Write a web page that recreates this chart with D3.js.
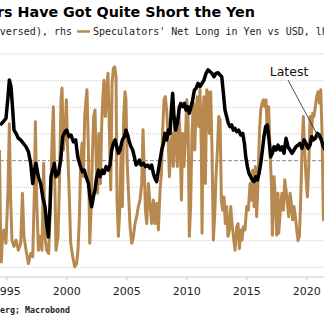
<!DOCTYPE html>
<html>
<head>
<meta charset="utf-8">
<script src="https://d3js.org/d3.v7.min.js"></script>
<style>
  body { margin: 0; background: #fff; }
  svg { display: block; }
</style>
</head>
<body>
<script>
// speculators' net long in yen vs USD (thousand contracts), lhs
const specNetLong = [
  [1994.40, 20], [1994.47, -110], [1994.55, -190], [1994.66, -140], [1994.78, -130], [1994.94, -155],
  [1995.11, -55], [1995.22, 69], [1995.33, -74], [1995.44, -149], [1995.61, -161], [1995.78, -149],
  [1995.97, -168], [1996.17, -155], [1996.31, -61], [1996.44, -142], [1996.61, -168], [1996.81, -193],
  [1997.00, -174], [1997.17, -180], [1997.31, -55], [1997.39, 73], [1997.50, -74], [1997.64, -168],
  [1997.78, -142], [1997.94, -168], [1998.08, -5], [1998.19, -142], [1998.33, -168], [1998.50, -174],
  [1998.67, -68], [1998.78, 39], [1998.89, 101], [1999.00, -30], [1999.11, -168], [1999.28, -142],
  [1999.39, -43], [1999.53, 114], [1999.61, 136], [1999.72, 20], [1999.86, 51], [1999.97, 114],
  [2000.08, 20], [2000.22, -68], [2000.33, -155], [2000.50, -180], [2000.67, -199], [2000.83, -193],
  [2000.94, -168], [2001.06, -105], [2001.17, 1], [2001.28, 33], [2001.39, -30], [2001.50, 83],
  [2001.61, 114], [2001.69, 133], [2001.81, 20], [2001.92, -155], [2002.03, -93], [2002.14, 8],
  [2002.25, 83], [2002.36, 95], [2002.47, -11], [2002.58, -61], [2002.69, 51], [2002.81, -43],
  [2002.92, 70], [2003.03, 126], [2003.11, 151], [2003.22, 83], [2003.33, 133], [2003.44, 164],
  [2003.56, 51], [2003.67, -55], [2003.78, 145], [2003.89, 173], [2004.00, 176], [2004.11, 158],
  [2004.19, -74], [2004.31, -142], [2004.42, -93], [2004.53, 20], [2004.64, -86], [2004.75, 83],
  [2004.86, 129], [2004.94, 114], [2005.03, 1], [2005.14, -55], [2005.28, -124], [2005.42, -155],
  [2005.56, -142], [2005.69, -118], [2005.83, -105], [2005.97, -86], [2006.11, -74], [2006.25, -43],
  [2006.36, 58], [2006.44, 1], [2006.56, -93], [2006.67, -118], [2006.81, -43], [2006.94, -80],
  [2007.08, -118], [2007.22, -74], [2007.36, -118], [2007.50, -80], [2007.64, -130], [2007.78, -55],
  [2007.89, -24], [2008.00, 58], [2008.11, 114], [2008.22, 120], [2008.33, 95], [2008.44, 51],
  [2008.56, -30], [2008.67, 20], [2008.78, 51], [2008.89, -11], [2009.00, 83], [2009.11, 33],
  [2009.22, -11], [2009.33, 101], [2009.44, 51], [2009.56, -74], [2009.67, 51], [2009.78, -11],
  [2009.89, 39], [2010.00, 114], [2010.11, 83], [2010.22, -142], [2010.33, -86], [2010.44, 51],
  [2010.56, 108], [2010.67, 20], [2010.78, 95], [2010.89, 120], [2011.00, 64], [2011.11, 133],
  [2011.22, 20], [2011.28, -136], [2011.36, 83], [2011.44, 120], [2011.56, -43], [2011.67, 133],
  [2011.78, 126], [2011.89, 51], [2012.00, 129], [2012.11, 20], [2012.22, -149], [2012.33, -105],
  [2012.44, -30], [2012.56, 20], [2012.67, 83], [2012.78, 76], [2012.89, -74], [2013.00, -93],
  [2013.11, -68], [2013.22, -118], [2013.33, -86], [2013.44, -142], [2013.56, -130], [2013.67, -86],
  [2013.78, -118], [2013.89, -142], [2014.03, -168], [2014.17, -124], [2014.28, -118], [2014.39, -165],
  [2014.50, -130], [2014.61, -149], [2014.72, -124], [2014.86, -130], [2015.00, -86], [2015.14, -93],
  [2015.28, -43], [2015.39, -74], [2015.50, -18], [2015.61, -86], [2015.72, -11], [2015.83, -105],
  [2015.94, -43], [2016.06, 51], [2016.17, 95], [2016.28, 108], [2016.39, 114], [2016.50, 101],
  [2016.61, 114], [2016.72, 51], [2016.83, 101], [2016.94, 20], [2017.06, -43], [2017.14, -140],
  [2017.28, -30], [2017.39, -74], [2017.50, -140], [2017.61, -61], [2017.67, -136], [2017.83, -86],
  [2017.94, -61], [2018.06, -93], [2018.17, -36], [2018.28, -55], [2018.39, -80], [2018.50, -105],
  [2018.61, -61], [2018.72, -80], [2018.83, -111], [2018.94, -86], [2019.06, -105], [2019.17, -130],
  [2019.28, -150], [2019.39, -142], [2019.50, -74], [2019.61, 20], [2019.72, 83], [2019.83, 20],
  [2019.94, -30], [2020.06, -68], [2020.17, -11], [2020.28, 83], [2020.39, 45], [2020.50, 89],
  [2020.61, 83], [2020.72, 101], [2020.83, 120], [2020.94, 129], [2021.06, 108], [2021.17, 133],
  [2021.28, 51], [2021.39, -111], [2021.53, -55]
];

// yen per USD, plotted reversed, rhs
const yenLevel = [
  [1994.44, 99.2], [1994.72, 97.8], [1994.94, 96.4], [1995.11, 87.1], [1995.22, 80.0], [1995.36, 82.8],
  [1995.50, 92.8], [1995.61, 101.4], [1995.78, 102.8], [1995.97, 104.9], [1996.17, 105.6], [1996.39, 107.1],
  [1996.61, 108.5], [1996.81, 110.6], [1997.00, 115.6], [1997.17, 124.2], [1997.31, 118.5], [1997.44, 115.6],
  [1997.64, 121.3], [1997.83, 124.2], [1998.00, 129.9], [1998.19, 134.1], [1998.33, 141.3], [1998.47, 147.0],
  [1998.61, 134.0], [1998.69, 121.3], [1998.83, 118.5], [1998.97, 115.6], [1999.11, 121.3], [1999.31, 119.9],
  [1999.50, 114.2], [1999.67, 104.2], [1999.86, 102.1], [2000.00, 101.4], [2000.19, 104.2], [2000.36, 103.5],
  [2000.56, 106.4], [2000.75, 105.6], [2000.92, 112.8], [2001.11, 116.3], [2001.31, 119.2], [2001.47, 118.5],
  [2001.61, 121.3], [2001.81, 124.2], [2001.94, 129.9], [2002.08, 134.1], [2002.22, 129.9], [2002.36, 127.0],
  [2002.50, 121.3], [2002.64, 118.5], [2002.78, 121.3], [2002.97, 118.5], [2003.11, 119.9], [2003.28, 117.0],
  [2003.47, 118.5], [2003.61, 116.3], [2003.75, 109.9], [2003.89, 107.1], [2004.03, 105.6], [2004.17, 108.5],
  [2004.31, 111.3], [2004.44, 109.9], [2004.64, 105.6], [2004.81, 104.2], [2004.94, 101.4], [2005.08, 103.5],
  [2005.22, 106.4], [2005.36, 108.5], [2005.50, 109.9], [2005.64, 112.8], [2005.78, 116.3], [2005.92, 115.6],
  [2006.06, 114.2], [2006.19, 116.3], [2006.39, 115.6], [2006.58, 117.0], [2006.75, 116.3], [2006.94, 117.7],
  [2007.08, 116.3], [2007.22, 119.9], [2007.36, 122.0], [2007.50, 123.4], [2007.64, 118.5], [2007.78, 114.2],
  [2007.92, 109.9], [2008.06, 107.1], [2008.19, 102.8], [2008.33, 105.6], [2008.47, 101.4], [2008.61, 102.8],
  [2008.72, 92.8], [2008.83, 85.7], [2008.94, 95.7], [2009.08, 101.4], [2009.22, 98.5], [2009.36, 92.8],
  [2009.50, 90.0], [2009.67, 91.4], [2009.81, 90.0], [2009.94, 92.8], [2010.08, 91.4], [2010.22, 94.2],
  [2010.36, 91.4], [2010.50, 88.5], [2010.64, 84.3], [2010.78, 83.6], [2010.94, 81.4], [2011.11, 82.8],
  [2011.28, 81.4], [2011.44, 80.0], [2011.61, 77.2], [2011.78, 75.7], [2011.94, 76.4], [2012.11, 77.2],
  [2012.28, 78.6], [2012.44, 77.2], [2012.61, 76.9], [2012.78, 77.9], [2012.92, 78.6], [2013.06, 85.7],
  [2013.19, 92.8], [2013.33, 95.7], [2013.47, 98.5], [2013.61, 99.9], [2013.75, 99.2], [2013.89, 101.4],
  [2014.03, 100.7], [2014.17, 102.1], [2014.33, 101.4], [2014.50, 103.5], [2014.67, 102.8], [2014.81, 107.1],
  [2014.92, 112.8], [2015.06, 117.0], [2015.19, 119.9], [2015.33, 121.3], [2015.47, 122.7], [2015.61, 123.4],
  [2015.75, 121.3], [2015.89, 122.7], [2016.03, 119.9], [2016.17, 115.6], [2016.31, 109.9], [2016.44, 104.2],
  [2016.58, 99.9], [2016.72, 99.2], [2016.86, 105.6], [2017.00, 112.8], [2017.14, 111.3], [2017.28, 108.5],
  [2017.44, 109.9], [2017.61, 107.8], [2017.78, 109.9], [2017.94, 108.5], [2018.11, 111.3], [2018.28, 104.9],
  [2018.44, 108.5], [2018.61, 109.9], [2018.78, 111.3], [2018.94, 109.9], [2019.11, 108.5], [2019.28, 107.8],
  [2019.44, 107.1], [2019.61, 109.2], [2019.78, 105.6], [2019.94, 107.1], [2020.11, 109.2], [2020.28, 107.8],
  [2020.42, 104.2], [2020.56, 105.6], [2020.72, 104.9], [2020.89, 102.8], [2021.06, 103.5], [2021.22, 105.6],
  [2021.39, 108.5], [2021.56, 109.9]
];

const yearTicks = [1995, 2000, 2005, 2010, 2015, 2020];
const lhsTicks = [-200, -150, -100, -50, 0, 50, 100, 150, 200];

const w = 324, h = 320;
const tan = '#b8894e';

const svg = d3.select('body').append('svg')
  .attr('width', w)
  .attr('height', h);

const x = d3.scaleLinear().domain([1995, 2020]).range([6.7, 306.7]);
const yL = d3.scaleLinear().domain([-200, 200]).range([267.3, 54]);
const yR = d3.scaleLinear().domain([70, 160]).range([56.6, 267.3]);
const axisY = 277;

// header, cut off at the left like the source
svg.append('text')
  .attr('x', 255).attr('y', 16.5)
  .attr('text-anchor', 'end')
  .style('font-family', 'DejaVu Sans')
  .style('font-weight', 'bold')
  .style('font-size', '14.3px')
  .attr('fill', '#000')
  .text('Speculators Have Got Quite Short the Yen');

svg.append('text')
  .attr('x', 72).attr('y', 35)
  .attr('text-anchor', 'end')
  .style('font-family', 'DejaVu Sans Mono')
  .style('font-size', '10px')
  .attr('fill', '#222')
  .text('Yen (Reversed), rhs');

svg.append('line')
  .attr('x1', 77).attr('x2', 90)
  .attr('y1', 31.5).attr('y2', 31.5)
  .attr('stroke', tan).attr('stroke-width', 2.5);

svg.append('text')
  .attr('x', 93).attr('y', 35)
  .style('font-family', 'DejaVu Sans Mono')
  .style('font-size', '10px')
  .attr('fill', '#222')
  .text("Speculators' Net Long in Yen vs USD, lhs");

// gridlines
svg.append('g')
  .selectAll('line')
  .data(lhsTicks)
  .enter()
  .append('line')
  .attr('x1', 0).attr('x2', w)
  .attr('y1', d => yL(d)).attr('y2', d => yL(d))
  .attr('stroke', d => d === 0 ? '#8a8a8a' : '#cfcfcf')
  .attr('stroke-width', 1)
  .attr('stroke-dasharray', d => d === 0 ? '4,2' : '1,1');

const lineSpec = d3.line()
  .x(d => x(d[0]))
  .y(d => yL(d[1]));

const lineYen = d3.line()
  .x(d => x(d[0]))
  .y(d => yR(d[1]));

svg.append('path')
  .datum(specNetLong)
  .attr('d', lineSpec)
  .attr('fill', 'none')
  .attr('stroke', tan)
  .attr('stroke-width', 3)
  .attr('stroke-linejoin', 'round');

svg.append('path')
  .datum(yenLevel)
  .attr('d', lineYen)
  .attr('fill', 'none')
  .attr('stroke', '#000')
  .attr('stroke-width', 3.5)
  .attr('stroke-linejoin', 'round');

// x axis
svg.append('line')
  .attr('x1', 0).attr('x2', w)
  .attr('y1', axisY).attr('y2', axisY)
  .attr('stroke', '#c8c8c8');

const xAxis = svg.append('g');
xAxis.selectAll('line')
  .data(yearTicks)
  .enter()
  .append('line')
  .attr('x1', d => x(d)).attr('x2', d => x(d))
  .attr('y1', axisY).attr('y2', axisY + 3)
  .attr('stroke', '#c8c8c8');

xAxis.selectAll('text')
  .data(yearTicks)
  .enter()
  .append('text')
  .attr('x', d => x(d))
  .attr('y', 295)
  .attr('text-anchor', 'middle')
  .style('font-family', 'DejaVu Sans')
  .style('font-size', '11px')
  .attr('fill', '#222')
  .text(d => d);

// annotation
const last = yenLevel[yenLevel.length - 1];
svg.append('line')
  .attr('x1', 288).attr('y1', 80)
  .attr('x2', x(last[0])).attr('y2', yR(last[1]))
  .attr('stroke', '#222')
  .attr('stroke-width', 0.8);

svg.append('text')
  .attr('x', 289).attr('y', 76)
  .attr('text-anchor', 'middle')
  .style('font-family', 'DejaVu Sans')
  .style('font-size', '12.5px')
  .attr('fill', '#111')
  .text('Latest');

// source
svg.append('text')
  .attr('x', 70).attr('y', 313)
  .attr('text-anchor', 'end')
  .style('font-family', 'DejaVu Sans Mono')
  .style('font-weight', 'bold')
  .style('font-size', '8.3px')
  .attr('fill', '#222')
  .text('Source: Bloomberg; Macrobond');
</script>
</body>
</html>
